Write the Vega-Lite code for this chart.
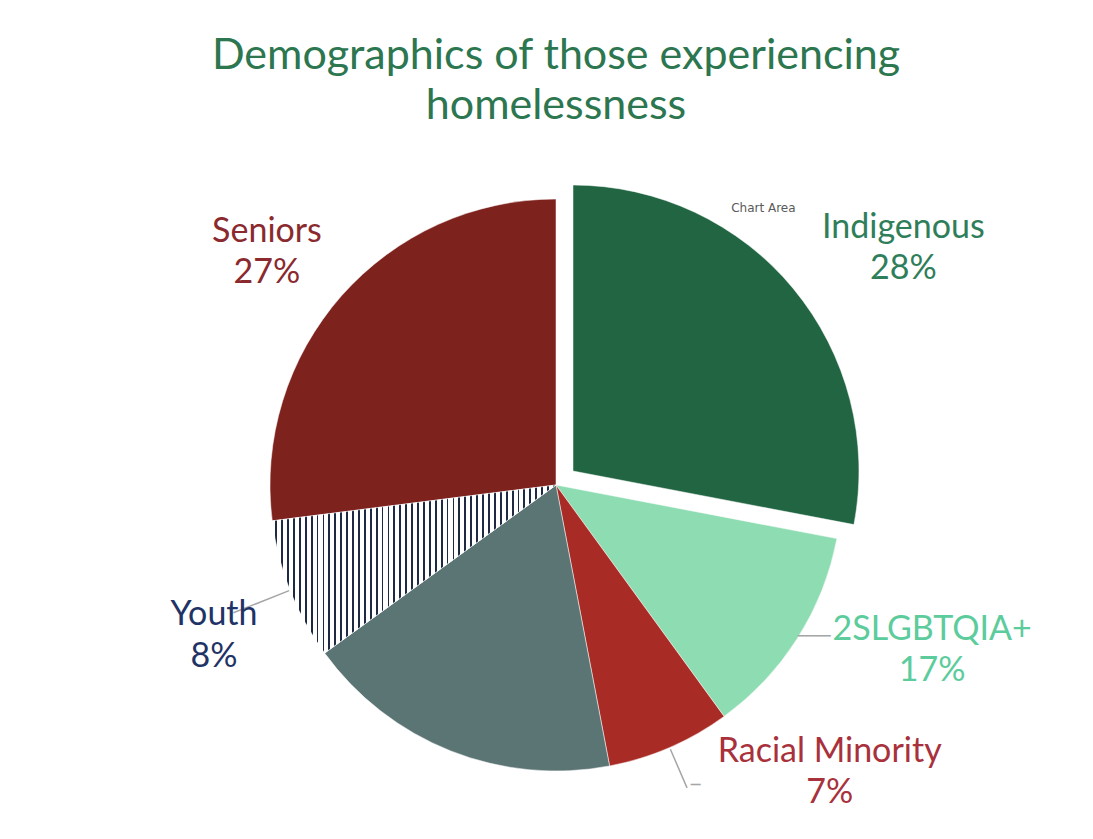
{
  "$schema": "https://vega.github.io/schema/vega-lite/v6.json",
  "width": 1074,
  "height": 708,
  "autosize": "none",
  "padding": {"top": 131, "left": 19, "right": 0, "bottom": 0},
  "background": "#ffffff",
  "config": {"view": {"stroke": null}},
  "title": {
    "text": ["Demographics of those experiencing", "homelessness"],
    "font": "Lato",
    "fontSize": 43,
    "fontWeight": "normal",
    "color": "#2c7650",
    "lineHeight": 50,
    "anchor": "middle",
    "offset": -12
  },
  "data": {
    "values": [
      {"category": "Indigenous", "value": 28, "rank": 1, "label": "Indigenous\n28%"},
      {"category": "2SLGBTQIA+", "value": 12, "rank": 2, "label": "2SLGBTQIA+\n17%"},
      {"category": "Racial Minority", "value": 7, "rank": 3, "label": "Racial Minority\n7%"},
      {"category": "Other", "value": 18, "rank": 4, "label": ""},
      {"category": "Youth", "value": 8, "rank": 5, "label": "Youth\n8%"},
      {"category": "Seniors", "value": 27, "rank": 6, "label": "Seniors\n27%"}
    ]
  },
  "encoding": {
    "theta": {"field": "value", "type": "quantitative", "stack": true},
    "order": {"field": "rank", "type": "quantitative"}
  },
  "layer": [
    {
      "mark": {"type": "arc", "radius": 286, "stroke": "#ffffff", "strokeWidth": 0.5},
      "encoding": {
        "color": {
          "field": "category",
          "type": "nominal",
          "scale": {
            "domain": ["Indigenous", "2SLGBTQIA+", "Racial Minority", "Other", "Youth", "Seniors"],
            "range": ["#216542", "#8edcb2", "#a92b25", "#5b7574", "#ffffff", "#7e221e"]
          },
          "legend": null
        },
        "opacity": {"condition": {"test": "datum.category === 'Indigenous'", "value": 0}, "value": 1}
      }
    },
    {
      "mark": {
        "type": "arc",
        "radius": 286,
        "stroke": "#ffffff",
        "strokeWidth": 0.5,
        "fill": {
          "gradient": "linear", "x1": 0, "y1": 0, "x2": 1, "y2": 0,
          "stops": [
            {"offset": 0.0104, "color": "#ffffff"}, {"offset": 0.0104, "color": "#1e2a44"}, {"offset": 0.0169, "color": "#1e2a44"}, {"offset": 0.0169, "color": "#ffffff"},
            {"offset": 0.0313, "color": "#ffffff"}, {"offset": 0.0313, "color": "#1e2a44"}, {"offset": 0.0378, "color": "#1e2a44"}, {"offset": 0.0378, "color": "#ffffff"},
            {"offset": 0.0521, "color": "#ffffff"}, {"offset": 0.0521, "color": "#1e2a44"}, {"offset": 0.0586, "color": "#1e2a44"}, {"offset": 0.0586, "color": "#ffffff"},
            {"offset": 0.0729, "color": "#ffffff"}, {"offset": 0.0729, "color": "#1e2a44"}, {"offset": 0.0794, "color": "#1e2a44"}, {"offset": 0.0794, "color": "#ffffff"},
            {"offset": 0.0938, "color": "#ffffff"}, {"offset": 0.0938, "color": "#1e2a44"}, {"offset": 0.1003, "color": "#1e2a44"}, {"offset": 0.1003, "color": "#ffffff"},
            {"offset": 0.1146, "color": "#ffffff"}, {"offset": 0.1146, "color": "#1e2a44"}, {"offset": 0.1211, "color": "#1e2a44"}, {"offset": 0.1211, "color": "#ffffff"},
            {"offset": 0.1354, "color": "#ffffff"}, {"offset": 0.1354, "color": "#1e2a44"}, {"offset": 0.1419, "color": "#1e2a44"}, {"offset": 0.1419, "color": "#ffffff"},
            {"offset": 0.1563, "color": "#ffffff"}, {"offset": 0.1563, "color": "#1e2a44"}, {"offset": 0.1628, "color": "#1e2a44"}, {"offset": 0.1628, "color": "#ffffff"},
            {"offset": 0.1771, "color": "#ffffff"}, {"offset": 0.1771, "color": "#1e2a44"}, {"offset": 0.1836, "color": "#1e2a44"}, {"offset": 0.1836, "color": "#ffffff"},
            {"offset": 0.1979, "color": "#ffffff"}, {"offset": 0.1979, "color": "#1e2a44"}, {"offset": 0.2044, "color": "#1e2a44"}, {"offset": 0.2044, "color": "#ffffff"},
            {"offset": 0.2188, "color": "#ffffff"}, {"offset": 0.2188, "color": "#1e2a44"}, {"offset": 0.2253, "color": "#1e2a44"}, {"offset": 0.2253, "color": "#ffffff"},
            {"offset": 0.2396, "color": "#ffffff"}, {"offset": 0.2396, "color": "#1e2a44"}, {"offset": 0.2461, "color": "#1e2a44"}, {"offset": 0.2461, "color": "#ffffff"},
            {"offset": 0.2604, "color": "#ffffff"}, {"offset": 0.2604, "color": "#1e2a44"}, {"offset": 0.2669, "color": "#1e2a44"}, {"offset": 0.2669, "color": "#ffffff"},
            {"offset": 0.2813, "color": "#ffffff"}, {"offset": 0.2813, "color": "#1e2a44"}, {"offset": 0.2878, "color": "#1e2a44"}, {"offset": 0.2878, "color": "#ffffff"},
            {"offset": 0.3021, "color": "#ffffff"}, {"offset": 0.3021, "color": "#1e2a44"}, {"offset": 0.3086, "color": "#1e2a44"}, {"offset": 0.3086, "color": "#ffffff"},
            {"offset": 0.3229, "color": "#ffffff"}, {"offset": 0.3229, "color": "#1e2a44"}, {"offset": 0.3294, "color": "#1e2a44"}, {"offset": 0.3294, "color": "#ffffff"},
            {"offset": 0.3438, "color": "#ffffff"}, {"offset": 0.3438, "color": "#1e2a44"}, {"offset": 0.3503, "color": "#1e2a44"}, {"offset": 0.3503, "color": "#ffffff"},
            {"offset": 0.3646, "color": "#ffffff"}, {"offset": 0.3646, "color": "#1e2a44"}, {"offset": 0.3711, "color": "#1e2a44"}, {"offset": 0.3711, "color": "#ffffff"},
            {"offset": 0.3854, "color": "#ffffff"}, {"offset": 0.3854, "color": "#1e2a44"}, {"offset": 0.3919, "color": "#1e2a44"}, {"offset": 0.3919, "color": "#ffffff"},
            {"offset": 0.4063, "color": "#ffffff"}, {"offset": 0.4063, "color": "#1e2a44"}, {"offset": 0.4128, "color": "#1e2a44"}, {"offset": 0.4128, "color": "#ffffff"},
            {"offset": 0.4271, "color": "#ffffff"}, {"offset": 0.4271, "color": "#1e2a44"}, {"offset": 0.4336, "color": "#1e2a44"}, {"offset": 0.4336, "color": "#ffffff"},
            {"offset": 0.4479, "color": "#ffffff"}, {"offset": 0.4479, "color": "#1e2a44"}, {"offset": 0.4544, "color": "#1e2a44"}, {"offset": 0.4544, "color": "#ffffff"},
            {"offset": 0.4688, "color": "#ffffff"}, {"offset": 0.4688, "color": "#1e2a44"}, {"offset": 0.4753, "color": "#1e2a44"}, {"offset": 0.4753, "color": "#ffffff"},
            {"offset": 0.4896, "color": "#ffffff"}, {"offset": 0.4896, "color": "#1e2a44"}, {"offset": 0.4961, "color": "#1e2a44"}, {"offset": 0.4961, "color": "#ffffff"},
            {"offset": 0.5104, "color": "#ffffff"}, {"offset": 0.5104, "color": "#1e2a44"}, {"offset": 0.5169, "color": "#1e2a44"}, {"offset": 0.5169, "color": "#ffffff"},
            {"offset": 0.5313, "color": "#ffffff"}, {"offset": 0.5313, "color": "#1e2a44"}, {"offset": 0.5378, "color": "#1e2a44"}, {"offset": 0.5378, "color": "#ffffff"},
            {"offset": 0.5521, "color": "#ffffff"}, {"offset": 0.5521, "color": "#1e2a44"}, {"offset": 0.5586, "color": "#1e2a44"}, {"offset": 0.5586, "color": "#ffffff"},
            {"offset": 0.5729, "color": "#ffffff"}, {"offset": 0.5729, "color": "#1e2a44"}, {"offset": 0.5794, "color": "#1e2a44"}, {"offset": 0.5794, "color": "#ffffff"},
            {"offset": 0.5938, "color": "#ffffff"}, {"offset": 0.5938, "color": "#1e2a44"}, {"offset": 0.6003, "color": "#1e2a44"}, {"offset": 0.6003, "color": "#ffffff"},
            {"offset": 0.6146, "color": "#ffffff"}, {"offset": 0.6146, "color": "#1e2a44"}, {"offset": 0.6211, "color": "#1e2a44"}, {"offset": 0.6211, "color": "#ffffff"},
            {"offset": 0.6354, "color": "#ffffff"}, {"offset": 0.6354, "color": "#1e2a44"}, {"offset": 0.6419, "color": "#1e2a44"}, {"offset": 0.6419, "color": "#ffffff"},
            {"offset": 0.6563, "color": "#ffffff"}, {"offset": 0.6563, "color": "#1e2a44"}, {"offset": 0.6628, "color": "#1e2a44"}, {"offset": 0.6628, "color": "#ffffff"},
            {"offset": 0.6771, "color": "#ffffff"}, {"offset": 0.6771, "color": "#1e2a44"}, {"offset": 0.6836, "color": "#1e2a44"}, {"offset": 0.6836, "color": "#ffffff"},
            {"offset": 0.6979, "color": "#ffffff"}, {"offset": 0.6979, "color": "#1e2a44"}, {"offset": 0.7044, "color": "#1e2a44"}, {"offset": 0.7044, "color": "#ffffff"},
            {"offset": 0.7188, "color": "#ffffff"}, {"offset": 0.7188, "color": "#1e2a44"}, {"offset": 0.7253, "color": "#1e2a44"}, {"offset": 0.7253, "color": "#ffffff"},
            {"offset": 0.7396, "color": "#ffffff"}, {"offset": 0.7396, "color": "#1e2a44"}, {"offset": 0.7461, "color": "#1e2a44"}, {"offset": 0.7461, "color": "#ffffff"},
            {"offset": 0.7604, "color": "#ffffff"}, {"offset": 0.7604, "color": "#1e2a44"}, {"offset": 0.7669, "color": "#1e2a44"}, {"offset": 0.7669, "color": "#ffffff"},
            {"offset": 0.7813, "color": "#ffffff"}, {"offset": 0.7813, "color": "#1e2a44"}, {"offset": 0.7878, "color": "#1e2a44"}, {"offset": 0.7878, "color": "#ffffff"},
            {"offset": 0.8021, "color": "#ffffff"}, {"offset": 0.8021, "color": "#1e2a44"}, {"offset": 0.8086, "color": "#1e2a44"}, {"offset": 0.8086, "color": "#ffffff"},
            {"offset": 0.8229, "color": "#ffffff"}, {"offset": 0.8229, "color": "#1e2a44"}, {"offset": 0.8294, "color": "#1e2a44"}, {"offset": 0.8294, "color": "#ffffff"},
            {"offset": 0.8438, "color": "#ffffff"}, {"offset": 0.8438, "color": "#1e2a44"}, {"offset": 0.8503, "color": "#1e2a44"}, {"offset": 0.8503, "color": "#ffffff"},
            {"offset": 0.8646, "color": "#ffffff"}, {"offset": 0.8646, "color": "#1e2a44"}, {"offset": 0.8711, "color": "#1e2a44"}, {"offset": 0.8711, "color": "#ffffff"},
            {"offset": 0.8854, "color": "#ffffff"}, {"offset": 0.8854, "color": "#1e2a44"}, {"offset": 0.8919, "color": "#1e2a44"}, {"offset": 0.8919, "color": "#ffffff"},
            {"offset": 0.9063, "color": "#ffffff"}, {"offset": 0.9063, "color": "#1e2a44"}, {"offset": 0.9128, "color": "#1e2a44"}, {"offset": 0.9128, "color": "#ffffff"},
            {"offset": 0.9271, "color": "#ffffff"}, {"offset": 0.9271, "color": "#1e2a44"}, {"offset": 0.9336, "color": "#1e2a44"}, {"offset": 0.9336, "color": "#ffffff"},
            {"offset": 0.9479, "color": "#ffffff"}, {"offset": 0.9479, "color": "#1e2a44"}, {"offset": 0.9544, "color": "#1e2a44"}, {"offset": 0.9544, "color": "#ffffff"},
            {"offset": 0.9688, "color": "#ffffff"}, {"offset": 0.9688, "color": "#1e2a44"}, {"offset": 0.9753, "color": "#1e2a44"}, {"offset": 0.9753, "color": "#ffffff"},
            {"offset": 0.9896, "color": "#ffffff"}, {"offset": 0.9896, "color": "#1e2a44"}, {"offset": 0.9961, "color": "#1e2a44"}, {"offset": 0.9961, "color": "#ffffff"}
          ]
        }
      },
      "encoding": {
        "opacity": {"condition": {"test": "datum.category === 'Youth'", "value": 1}, "value": 0}
      }
    },
    {
      "mark": {"type": "arc", "radius": 286, "xOffset": 17, "yOffset": -14, "stroke": "#ffffff", "strokeWidth": 0.5},
      "encoding": {
        "color": {"field": "category", "type": "nominal", "legend": null},
        "opacity": {"condition": {"test": "datum.category === 'Indigenous'", "value": 1}, "value": 0}
      }
    },
    {
      "mark": {"type": "arc", "radius": 330, "radius2": 288, "padAngle": 1.2, "fill": null, "stroke": "#a6a6a6", "strokeWidth": 1.5},
      "encoding": {
        "opacity": {"condition": {"test": "datum.category === 'Racial Minority'", "value": 1}, "value": 0}
      }
    },
    {
      "mark": {"type": "arc", "radius": 347, "radius2": 287, "padAngle": 1.2, "fill": null, "stroke": "#a6a6a6", "strokeWidth": 1.5},
      "encoding": {
        "opacity": {"condition": {"test": "datum.category === 'Youth'", "value": 1}, "value": 0}
      }
    },
    {
      "mark": {"type": "text", "radius": 300, "dx": 5, "dy": -9, "font": "DejaVu Sans", "fontSize": 18, "align": "center", "baseline": "middle", "color": "#a6a6a6"},
      "encoding": {"text": {"condition": {"test": "datum.category === '2SLGBTQIA+'", "value": "───"}, "value": ""}}
    },
    {
      "mark": {"type": "text", "radius": 331, "dx": 8, "dy": -4, "font": "DejaVu Sans", "fontSize": 16, "align": "center", "baseline": "middle", "color": "#a6a6a6"},
      "encoding": {"text": {"condition": {"test": "datum.category === 'Racial Minority'", "value": "─"}, "value": ""}}
    },
    {
      "mark": {"type": "text", "radius": 421, "dx": 23, "dy": 11, "font": "Lato", "fontSize": 34, "lineBreak": "\n", "lineHeight": 41, "align": "center", "baseline": "middle", "color": "#2f7e5a"},
      "encoding": {"text": {"condition": {"test": "datum.category === 'Indigenous'", "field": "label", "type": "nominal"}, "value": ""}}
    },
    {
      "mark": {"type": "text", "radius": 410, "dx": 30, "dy": -75, "font": "Lato", "fontSize": 34, "lineBreak": "\n", "lineHeight": 41, "align": "center", "baseline": "middle", "color": "#5ccc9c"},
      "encoding": {"text": {"condition": {"test": "datum.category === '2SLGBTQIA+'", "field": "label", "type": "nominal"}, "value": ""}}
    },
    {
      "mark": {"type": "text", "radius": 392, "dx": 118, "dy": -93, "font": "Lato", "fontSize": 34, "lineBreak": "\n", "lineHeight": 41, "align": "center", "baseline": "middle", "color": "#a8313c"},
      "encoding": {"text": {"condition": {"test": "datum.category === 'Racial Minority'", "field": "label", "type": "nominal"}, "value": ""}}
    },
    {
      "mark": {"type": "text", "radius": 371, "dx": 3, "dy": -7, "font": "Lato", "fontSize": 34, "lineBreak": "\n", "lineHeight": 42, "align": "center", "baseline": "middle", "color": "#1f3366"},
      "encoding": {"text": {"condition": {"test": "datum.category === 'Youth'", "field": "label", "type": "nominal"}, "value": ""}}
    },
    {
      "mark": {"type": "text", "radius": 372, "dx": -10, "dy": -7, "font": "Lato", "fontSize": 34, "lineBreak": "\n", "lineHeight": 41, "align": "center", "baseline": "middle", "color": "#8a2a2e"},
      "encoding": {"text": {"condition": {"test": "datum.category === 'Seniors'", "field": "label", "type": "nominal"}, "value": ""}}
    },
    {
      "mark": {"type": "text", "radius": 347, "dx": -60, "dy": -56, "font": "DejaVu Sans", "fontSize": 12, "align": "center", "baseline": "middle", "color": "#595959"},
      "encoding": {"text": {"condition": {"test": "datum.category === 'Indigenous'", "value": "Chart Area"}, "value": ""}}
    }
  ]
}
